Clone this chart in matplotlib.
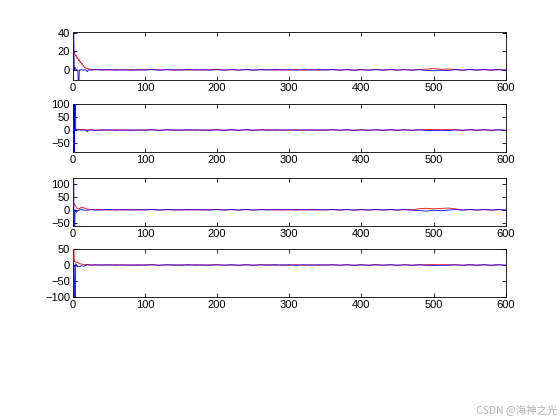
import numpy as np
import matplotlib
matplotlib.use('Agg')
import matplotlib.pyplot as plt

plt.rcParams['font.family'] = ['Liberation Sans', 'DejaVu Sans']
plt.rcParams['font.size'] = 8

# shared tail time grid (samples)
t_tail = np.arange(40, 601, 10)

# ---- subplot 1
r1_t = [0, 1, 2, 3, 4, 5, 6, 7, 8, 9, 10, 11, 12, 13, 14, 15, 16, 18, 20, 22, 25, 30]
r1_y = [0, 20, 19, 17, 15, 16, 12, 13, 10, 11, 8, 9, 6, 7, 5, 4, 3, 2, 1.5, 1, 0.6, 0.3]
b1_t = [0, 1, 2, 3, 4, 6, 7, 8, 9, 10, 12, 15, 18, 20, 22, 25, 30]
b1_y = [0, 60, 0, 3, 0.5, 0, 0, -30, 0, -0.5, 0.4, -0.3, 0.2, -2, 0.2, -0.3, 0.2]
r1_tail = [0.3, -0.2, 0.4, -0.2, 0.3, -0.3, 0.2, 0.4, -0.2, 0.3, -0.4, 0.2, -0.2, 0.3, -0.3,
           0.2, 0.4, -0.2, 0.2, -0.3, 0.3, -0.2, 0.2, 0.3, -0.3, 0.2, -0.2, 0.4, -0.2, 0.3,
           -0.3, 0.2, 0.2, -0.3, 0.3, -0.2, 0.3, -0.2, 0.4, -0.2, 0.2, -0.3, 0.3, -0.2, 0.3,
           0.8, 1.4, 0.6, 1.0, 0.3, -0.3, 0.3, -0.2, 0.2, -0.3, 0.3, -0.2]
b1_tail = [-0.2, 0.3, -0.3, 0.2, -0.4, 0.2, -0.2, 0.3, -0.3, 0.2, 0.2, -0.3, 0.4, -0.2, 0.2,
           -0.3, 0.2, -0.2, 0.3, -0.2, 0.3, -0.3, 0.2, -0.2, 0.4, -0.2, 0.3, -0.3, 0.2, -0.2,
           0.3, -0.2, 0.3, -0.2, 0.2, -0.4, 0.2, -0.3, 0.2, -0.2, 0.3, -0.2, 0.2, -0.3, 0.2,
           -0.6, -1.0, -0.4, -0.7, 0.2, -0.2, 0.3, -0.2, 0.3, -0.2, 0.2, -0.3]

# ---- subplot 2
r2_t = [0, 1, 3, 6, 10, 14, 16, 20, 25, 30]
r2_y = [0, 3, 2.5, 3, 2, 2.5, 1, 0.5, 0.6, -0.6]
b2_t = [0, 1, 2, 3, 4, 8, 12, 16, 19, 20, 21, 25, 30]
b2_y = [0, 400, -400, 400, 0, 0.8, -0.6, 0.6, -2, -7, -1, 0.8, -0.8]
r2_tail = [0.9, -0.7, 1.1, -0.6, 0.8, -1.0, 0.6, 1.0, -0.8, 0.7, -1.1, 0.8, -0.6, 1.0, -0.9,
           0.7, 1.1, -0.7, 0.6, -1.0, 0.9, -0.6, 0.8, 1.0, -0.8, 0.6, -0.7, 1.1, -0.6, 0.9,
           -1.0, 0.7, 0.6, -0.9, 1.0, -0.7, 0.8, -0.6, 1.1, -0.7, 0.6, -0.9, 1.0, -0.6, 0.8,
           1.5, 2.5, 1.2, 1.8, 0.7, -0.9, 1.0, -0.6, 0.7, -1.0, 0.9, -0.7]
b2_tail = [-0.7, 1.0, -0.9, 0.6, -1.1, 0.7, -0.6, 0.9, -1.0, 0.7, 0.6, -0.8, 1.1, -0.7, 0.6,
           -1.0, 0.7, -0.6, 0.9, -0.7, 1.0, -0.8, 0.6, -0.7, 1.1, -0.6, 0.9, -1.0, 0.7, -0.6,
           0.8, -0.7, 1.0, -0.6, 0.7, -1.1, 0.6, -0.9, 0.7, -0.6, 1.0, -0.7, 0.6, -0.9, 0.7,
           -1.5, -2.5, -1.0, -1.8, 0.6, -0.7, 0.9, -0.6, 1.0, -0.7, 0.6, -0.8]

# ---- subplot 3
r3_t = [0, 1, 2, 3, 4, 5, 6, 8, 10, 12, 14, 16, 18, 20, 22, 25, 30]
r3_y = [0, 25, 22, 18, 14, 10, 6, 3, 6, 10, 9, 7, 5, 3, 2, 1, 0.8]
b3_t = [0, 1, 2, 3, 4, 5, 6, 8, 10, 12, 15, 20, 25, 30]
b3_y = [0, 400, -400, 0, -4, -10, -6, -2, 0, 1, -1, -1.5, 0.8, -0.8]
r3_tail = [0.9, -0.7, 1.1, -0.6, 0.8, -1.0, 0.6, 1.0, -0.8, 0.7, -1.1, 0.8, -0.6, 1.0, -0.9,
           0.7, 1.1, -0.7, 0.6, -1.0, 0.9, -0.6, 0.8, 1.0, -0.8, 0.6, -0.7, 1.1, -0.6, 0.9,
           -1.0, 0.7, 0.6, -0.9, 1.0, -0.7, 0.8, -0.6, 1.1, -0.7, 0.6, -0.9, 1.0, -0.6, 4.0,
           6.0, 3.5, 5.5, 7.0, 4.0, -0.9, 1.0, -0.6, 0.7, -1.0, 0.9, -0.7]
b3_tail = [-0.7, 1.0, -0.9, 0.6, -1.1, 0.7, -0.6, 0.9, -1.0, 0.7, 0.6, -0.8, 1.1, -0.7, 0.6,
           -1.0, 0.7, -0.6, 0.9, -0.7, 1.0, -0.8, 0.6, -0.7, 1.1, -0.6, 0.9, -1.0, 0.7, -0.6,
           0.8, -0.7, 1.0, -0.6, 0.7, -1.1, 0.6, -0.9, 0.7, -0.6, 1.0, -0.7, 0.6, -0.9, -3.0,
           -5.0, -1.5, -3.5, -1.0, 0.6, -0.7, 0.9, -0.6, 1.0, -0.7, 0.6, -0.8]

# ---- subplot 4
r4_t = [0, 1, 2, 3, 4, 5, 6, 8, 10, 12, 15, 20, 25, 30]
r4_y = [0, 120, 10, 12, 10, 8, 9, 6, 4, 3, 2, 1, 0.8, -0.6]
b4_t = [0, 1, 2, 3, 4, 6, 8, 10, 12, 15, 18, 20, 25, 30]
b4_y = [0, -300, 0, -300, 5, -4, -5, -4, -2, -4, -1, 0.8, -0.8, 0.8]
r4_tail = [0.7, -0.6, 0.9, -0.5, 0.6, -0.8, 0.5, 0.8, -0.6, 0.6, -0.9, 0.7, -0.5, 0.8, -0.7,
           0.6, 0.9, -0.6, 0.5, -0.8, 0.7, -0.5, 0.6, 0.8, -0.7, 0.5, -0.6, 0.9, -0.5, 0.7,
           -0.8, 0.6, 0.5, -0.7, 0.8, -0.6, 0.7, -0.5, 0.9, -0.6, 0.5, -0.7, 0.8, -0.5, 0.6,
           0.9, 1.2, 0.7, 0.8, 0.5, -0.7, 0.8, -0.5, 0.6, -0.8, 0.7, -0.6]
b4_tail = [-0.6, 0.8, -0.7, 0.5, -0.9, 0.6, -0.5, 0.7, -0.8, 0.6, 0.5, -0.7, 0.9, -0.6, 0.5,
           -0.8, 0.6, -0.5, 0.7, -0.6, 0.8, -0.7, 0.5, -0.6, 0.9, -0.5, 0.7, -0.8, 0.6, -0.5,
           0.7, -0.6, 0.8, -0.5, 0.6, -0.9, 0.5, -0.7, 0.6, -0.5, 0.8, -0.6, 0.5, -0.7, 0.6,
           -0.9, -1.2, -0.7, -0.8, 0.5, -0.6, 0.7, -0.5, 0.8, -0.6, 0.5, -0.7]

series = [
    (r1_t, r1_y, r1_tail, b1_t, b1_y, b1_tail, (-11, 41), [0, 20, 40]),
    (r2_t, r2_y, r2_tail, b2_t, b2_y, b2_tail, (-85, 100), [-50, 0, 50, 100]),
    (r3_t, r3_y, r3_tail, b3_t, b3_y, b3_tail, (-62, 122), [-50, 0, 50, 100]),
    (r4_t, r4_y, r4_tail, b4_t, b4_y, b4_tail, (-100, 50), [-100, -50, 0, 50]),
]

fig = plt.figure(figsize=(5.6, 4.2), dpi=100)
bottoms = [0.8095, 0.638, 0.462, 0.293]
for (rt, ry, rtail, bt, by, btail, ylim, yt), bot in zip(series, bottoms):
    ax = fig.add_axes([0.130, bot, 0.773, 0.114])
    ax.plot(np.concatenate([rt, t_tail]), np.concatenate([ry, rtail]),
            color='r', lw=0.6, zorder=3)
    ax.plot(np.concatenate([bt, t_tail]), np.concatenate([by, btail]),
            color='b', lw=0.6, zorder=3)
    ax.set_xlim(0, 600)
    ax.set_ylim(*ylim)
    ax.set_yticks(yt)
    ax.set_xticks([0, 100, 200, 300, 400, 500, 600])
    ax.tick_params(direction='in', top=True, right=True, length=3, width=0.6, pad=2)
    for s in ax.spines.values():
        s.set_linewidth(0.6)
        s.set_zorder(2)

fig.text(0.995, 0.012, 'CSDN @海神之光', ha='right', va='bottom', fontsize=7.5,
         color='#b0b0b0', family=['Noto Sans CJK SC', 'DejaVu Sans'])

fig.savefig('out.png', dpi=100)
